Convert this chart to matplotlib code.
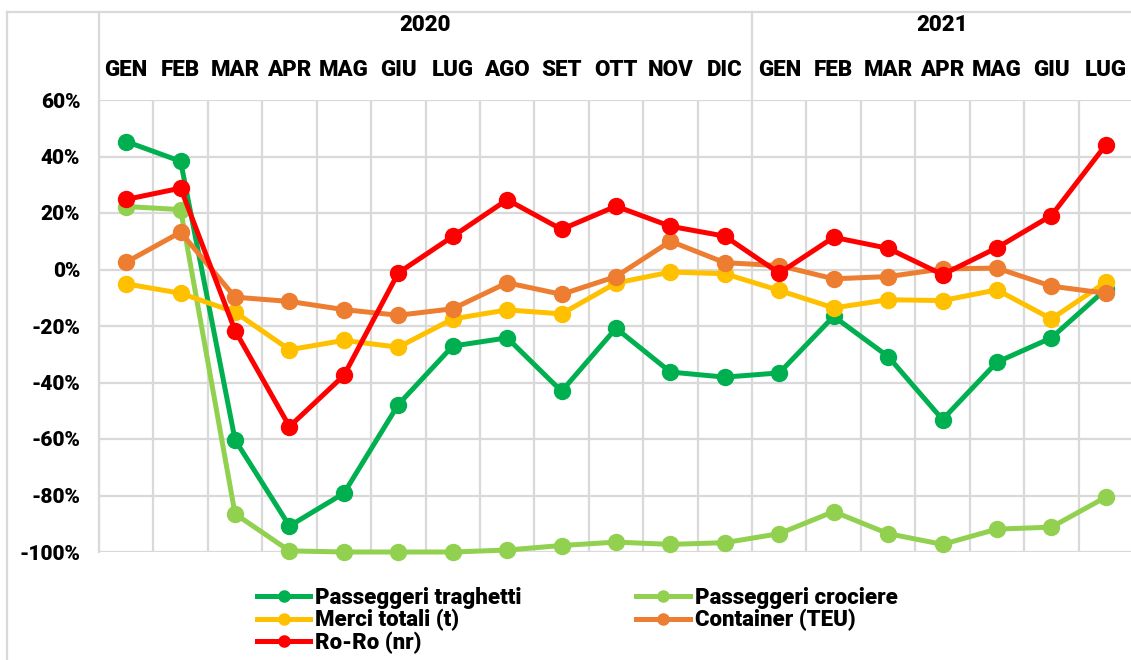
import matplotlib.pyplot as plt
from matplotlib.lines import Line2D

plt.rcParams["font.family"] = ["Roboto", "DejaVu Sans"]
plt.rcParams["font.weight"] = "black"

########################################################################################
# Data (variazione % mensile)
########################################################################################
months = ["GEN", "FEB", "MAR", "APR", "MAG", "GIU", "LUG", "AGO", "SET", "OTT", "NOV",
          "DIC", "GEN", "FEB", "MAR", "APR", "MAG", "GIU", "LUG"]
years = ["2020", "2021"]
year_len = [12, 7]

traghetti = [45.3, 38.3, -60.3, -90.8, -79.2, -47.8, -27.1, -24.2, -43.1, -20.8, -36.3,
             -38.1, -36.6, -16.6, -30.8, -53.1, -32.8, -24.2, -7.0]
crociere = [22.3, 21.2, -86.5, -99.6, -100.0, -100.0, -100.0, -99.3, -97.7, -96.5, -97.3,
            -96.7, -93.5, -85.7, -93.5, -97.3, -91.9, -91.2, -80.6]
merci = [-5.1, -8.4, -15.1, -28.4, -25.1, -27.5, -17.5, -14.3, -15.7, -4.8, -0.9,
         -1.5, -7.4, -13.6, -10.7, -11.0, -7.2, -17.5, -4.5]
container = [2.6, 13.2, -9.8, -11.3, -14.2, -16.2, -13.9, -4.7, -8.8, -2.5, 10.0,
             2.4, 1.4, -3.3, -2.5, 0.2, 0.5, -5.9, -8.4]
roro = [24.8, 28.8, -21.6, -55.6, -37.5, -1.2, 11.7, 24.7, 14.2, 22.4, 15.3,
        11.8, -1.3, 11.4, 7.5, -1.8, 7.7, 19.1, 44.1]

series = [
    ("Passeggeri traghetti", traghetti, "#00B050"),
    ("Passeggeri crociere", crociere, "#92D050"),
    ("Merci totali (t)", merci, "#FFC000"),
    ("Container (TEU)", container, "#ED7D31"),
    ("Ro-Ro (nr)", roro, "#FF0000"),
]

grid_c = "#D9D9D9"
W, H = 1131, 660

fig = plt.figure(figsize=(W / 100, H / 100), dpi=100)
ax = fig.add_axes([99 / W, 1 - 552 / H, (1133 - 99) / W, (552 - 100) / H])

x = list(range(len(months)))
handles = {}
for name, vals, col in series:
    (ln,) = ax.plot(x, vals, color=col, lw=3.6, marker="o", ms=11.5, label=name,
                    solid_joinstyle="round", clip_on=False, zorder=3)
    handles[name] = ln

ax.set_xlim(-0.5, len(months) - 0.5)
ax.set_ylim(-100, 60)
ax.set_yticks(range(-100, 61, 20))
ax.set_yticklabels([f"{v}%" for v in range(-100, 61, 20)], fontsize=15)
ax.set_xticks([i - 0.5 for i in range(len(months) + 1)])
ax.set_xticklabels([])
ax.tick_params(length=0, pad=13.5)
ax.grid(True, color=grid_c, lw=1.6)
for s in ax.spines.values():
    s.set_visible(False)
ax.set_axisbelow(True)

# header: months and years above the plot
xt = ax.get_xaxis_transform()
for i, m in enumerate(months):
    ax.text(i, 1.066, m, transform=xt, ha="center", va="center", fontsize=16)
start = 0
for yr, n in zip(years, year_len):
    ax.text(start + n / 2 - 0.5, 1.166, yr, transform=xt, ha="center", va="center",
            fontsize=16)
    start += n
top = (552 - 12) / 452
ax.plot([-0.5, -0.5], [0, top], transform=xt, color=grid_c, lw=1.6, clip_on=False)
ax.plot([11.5, 11.5], [1, top], transform=xt, color=grid_c, lw=1.6, clip_on=False)

# chart border
fig.add_artist(Line2D([7 / W, 7 / W], [0, 1 - 12 / H], color=grid_c, lw=1.6))
fig.add_artist(Line2D([7 / W, 1], [1 - 12 / H, 1 - 12 / H], color=grid_c, lw=1.6))

order = ["Passeggeri traghetti", "Merci totali (t)", "Ro-Ro (nr)",
         "Passeggeri crociere", "Container (TEU)"]
leg_h = [Line2D([], [], color=handles[n].get_color(), lw=3.6, marker="o", ms=8)
         for n in order]
fig.legend(leg_h, order, loc="upper left", bbox_to_anchor=(257 / W, 1 - 587 / H),
           ncol=2, frameon=False, fontsize=16, handlelength=2.4, handletextpad=0.23,
           columnspacing=5.15, labelspacing=0.0, borderpad=0, borderaxespad=0)

fig.savefig("out.png", dpi=100)
